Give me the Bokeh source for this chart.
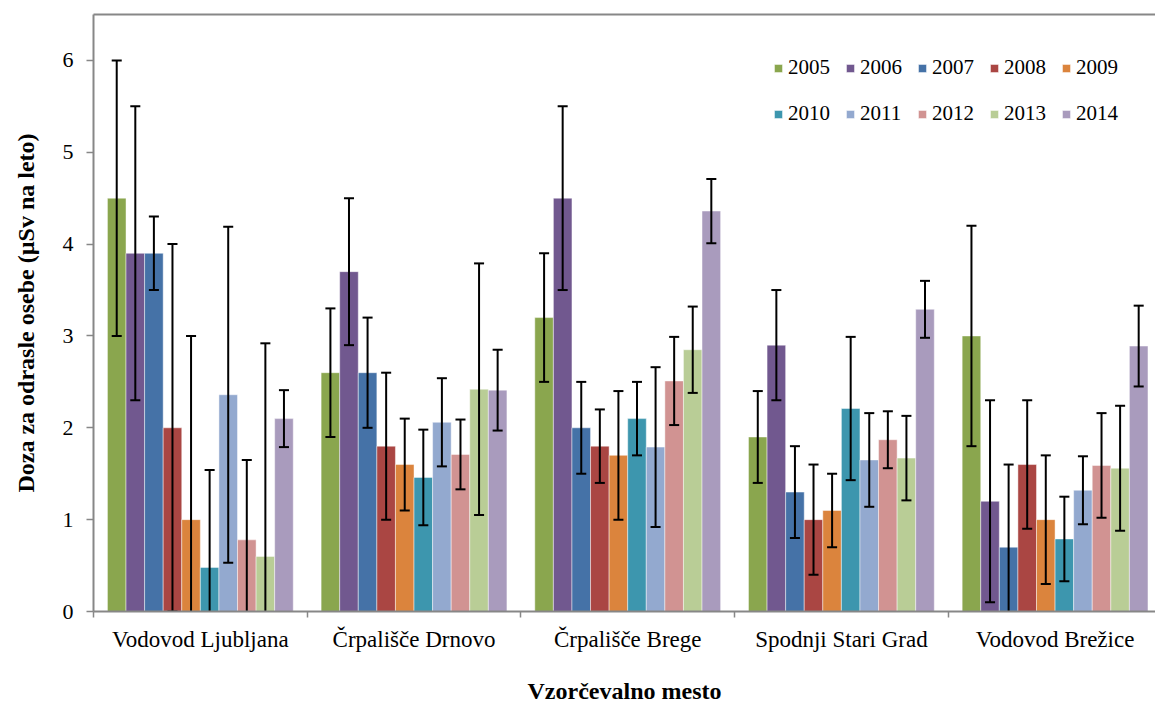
from bokeh.plotting import figure
from bokeh.models import ColumnDataSource, FixedTicker, Range1d, LinearAxis, Legend, LegendItem
from bokeh.embed import file_html
from bokeh.resources import INLINE

# ---------------- data ----------------
sites = ["Vodovod Ljubljana", "Črpališče Drnovo", "Črpališče Brege",
         "Spodnji Stari Grad", "Vodovod Brežice"]
years = ["2005", "2006", "2007", "2008", "2009",
         "2010", "2011", "2012", "2013", "2014"]

v2005 = [4.50, 2.60, 3.20, 1.90, 3.00]
v2006 = [3.90, 3.70, 4.50, 2.90, 1.20]
v2007 = [3.90, 2.60, 2.00, 1.30, 0.70]
v2008 = [2.00, 1.80, 1.80, 1.00, 1.60]
v2009 = [1.00, 1.60, 1.70, 1.10, 1.00]
v2010 = [0.48, 1.46, 2.10, 2.21, 0.79]
v2011 = [2.36, 2.06, 1.79, 1.65, 1.32]
v2012 = [0.78, 1.71, 2.51, 1.87, 1.59]
v2013 = [0.60, 2.42, 2.85, 1.67, 1.56]
v2014 = [2.10, 2.41, 4.36, 3.29, 2.89]

e2005 = [1.50, 0.70, 0.70, 0.50, 1.20]
e2006 = [1.60, 0.80, 1.00, 0.60, 1.10]
e2007 = [0.40, 0.60, 0.50, 0.50, 0.90]
e2008 = [2.00, 0.80, 0.40, 0.60, 0.70]
e2009 = [2.00, 0.50, 0.70, 0.40, 0.70]
e2010 = [1.06, 0.52, 0.40, 0.78, 0.46]
e2011 = [1.83, 0.48, 0.87, 0.51, 0.37]
e2012 = [0.87, 0.38, 0.48, 0.31, 0.57]
e2013 = [2.32, 1.37, 0.47, 0.46, 0.68]
e2014 = [0.31, 0.44, 0.35, 0.31, 0.44]

values = [v2005, v2006, v2007, v2008, v2009, v2010, v2011, v2012, v2013, v2014]
errors = [e2005, e2006, e2007, e2008, e2009, e2010, e2011, e2012, e2013, e2014]

colors = ["#8AA64E", "#71588F", "#4572A7", "#AA4643", "#DB843D",
          "#3D96AE", "#93A9CF", "#D19392", "#B9CD96", "#A99BBD"]

y_ticks = [0, 1, 2, 3, 4, 5, 6]

FONT = "Liberation Serif"
GRAY = "#878787"

# ---------------- figure ----------------
p = figure(width=1155, height=706,
           x_range=Range1d(0, 4.97), y_range=Range1d(0, 6.5),
           output_backend="svg", toolbar_location=None,
           min_border_left=93, min_border_right=0,
           min_border_top=14, min_border_bottom=94)
p.outline_line_color = None
p.xgrid.visible = False
p.ygrid.visible = False
p.background_fill_color = "white"
p.border_fill_color = "white"

n = len(years)
slot = n + 1.5          # Excel gap width 150 %
bar_w = 1.0 / slot
cap_half = bar_w * 0.27

items = []
seg_x, seg_lo, seg_hi = [], [], []
for j, (yr, vals, errs, col) in enumerate(zip(years, values, errors, colors)):
    xs = [i + (0.75 + j + 0.5) / slot for i in range(len(sites))]
    src = ColumnDataSource(dict(x=xs, top=vals))
    r = p.vbar(x="x", top="top", width=bar_w, source=src,
               fill_color=col, line_color="white", line_alpha=0.45, line_width=1)
    items.append(LegendItem(label=yr, renderers=[r]))
    for x, v, e in zip(xs, vals, errs):
        seg_x.append(x)
        seg_lo.append(v - e)
        seg_hi.append(v + e)

esrc = ColumnDataSource(dict(
    x=seg_x, lo=seg_lo, hi=seg_hi,
    xl=[x - cap_half for x in seg_x], xr=[x + cap_half for x in seg_x]))
p.segment(x0="x", y0="lo", x1="x", y1="hi", source=esrc, line_color="black", line_width=2)
p.segment(x0="xl", y0="hi", x1="xr", y1="hi", source=esrc, line_color="black", line_width=2)
p.segment(x0="xl", y0="lo", x1="xr", y1="lo", source=esrc, line_color="black", line_width=2)

# ---------------- axes ----------------
yax = p.yaxis[0]
yax.ticker = FixedTicker(ticks=y_ticks)
yax.major_tick_out = 7
yax.major_tick_in = 0
yax.minor_tick_out = 0
yax.minor_tick_in = 0
yax.axis_line_color = GRAY
yax.axis_line_width = 2
yax.major_tick_line_color = GRAY
yax.major_tick_line_width = 1.5
yax.major_label_text_font = FONT
yax.major_label_text_font_size = "22px"
yax.major_label_text_color = "black"
yax.major_label_standoff = 13
yax.axis_label = "Doza za odrasle osebe (µSv na leto)"
yax.axis_label_text_font = FONT
yax.axis_label_text_font_style = "bold"
yax.axis_label_text_font_size = "24px"
yax.axis_label_text_color = "black"
yax.axis_label_standoff = 21

xax = p.xaxis[0]
centers = [i + 0.5 for i in range(len(sites))]
xax.ticker = FixedTicker(ticks=centers, minor_ticks=list(range(len(sites) + 1)))
xax.major_label_overrides = {c: s for c, s in zip(centers, sites)}
xax.major_tick_out = 0
xax.major_tick_in = 0
xax.minor_tick_out = 6
xax.minor_tick_in = 0
xax.minor_tick_line_color = GRAY
xax.minor_tick_line_width = 1.5
xax.axis_line_color = GRAY
xax.axis_line_width = 2
xax.major_label_text_font = FONT
xax.major_label_text_font_size = "23px"
xax.major_label_text_color = "black"
xax.major_label_standoff = 9
xax.axis_label = "Vzorčevalno mesto"
xax.axis_label_text_font = FONT
xax.axis_label_text_font_style = "bold"
xax.axis_label_text_font_size = "24px"
xax.axis_label_text_color = "black"
xax.axis_label_standoff = 23

top_ax = LinearAxis(ticker=FixedTicker(ticks=[]), major_tick_out=0, major_tick_in=0,
                    minor_tick_out=0, minor_tick_in=0, major_label_standoff=0,
                    major_label_text_font_size="0px", axis_line_color=GRAY,
                    axis_line_width=2)
p.add_layout(top_ax, "above")

# ---------------- legend ----------------
legend = Legend(items=items, location=(680, 482), orientation="horizontal", nrows=2,
                label_text_font=FONT, label_text_font_size="21px",
                label_text_color="black", glyph_width=10, glyph_height=10,
                label_standoff=5, spacing=15, label_height=31,
                padding=0, margin=0, border_line_color=None,
                background_fill_alpha=0)
p.add_layout(legend)

open("out.html", "w").write(file_html(p, INLINE))
